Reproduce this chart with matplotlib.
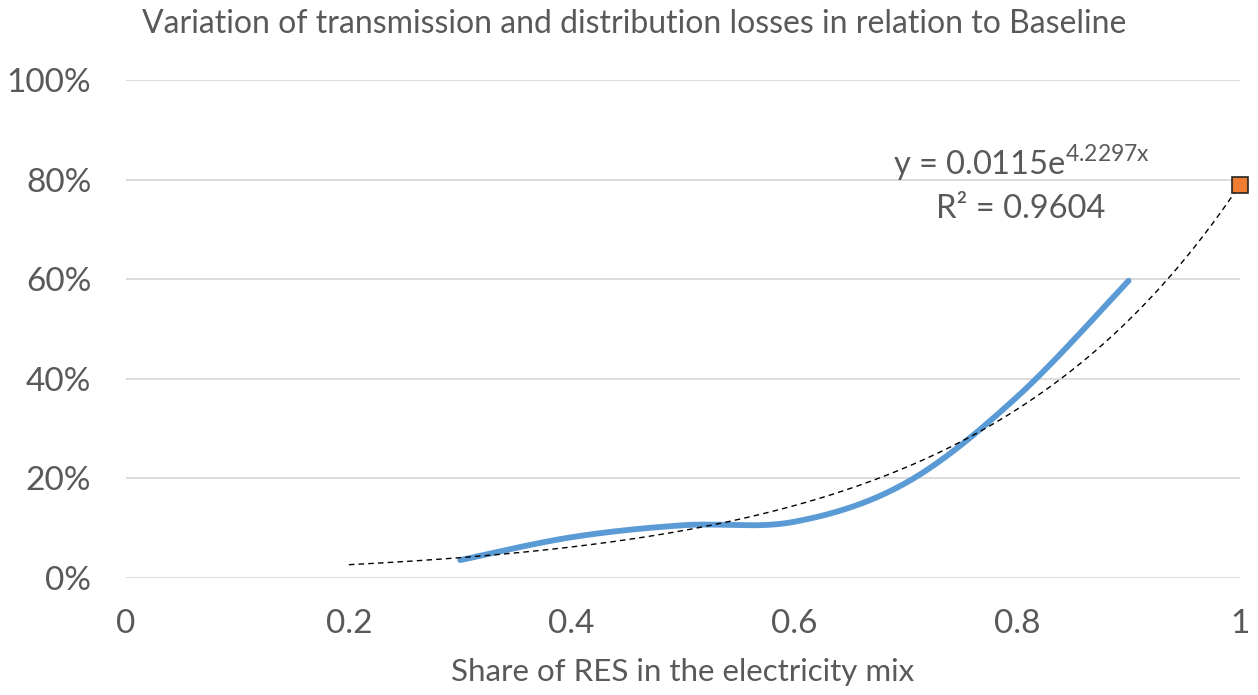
import numpy as np
import matplotlib
matplotlib.use("Agg")
import matplotlib.pyplot as plt

plt.rcParams['font.family'] = ['Lato', 'DejaVu Sans']

# data
res_share = [0.3, 0.4, 0.5, 0.6, 0.7, 0.8, 0.9]
loss_var = [0.036, 0.082, 0.106, 0.113, 0.191, 0.364, 0.597]
extra_x = [1.0]
extra_y = [0.79]
# trendline shown on the chart: y = a * exp(b x)
trend_a = 0.0115
trend_b = 4.2297
trend_range = [0.2, 1.0]
x_ticks = [0, 0.2, 0.4, 0.6, 0.8, 1]
x_tick_labels = ["0", "0.2", "0.4", "0.6", "0.8", "1"]
y_ticks = [0, 0.2, 0.4, 0.6, 0.8, 1.0]
y_tick_labels = ["0%", "20%", "40%", "60%", "80%", "100%"]

TXT = "#595959"


def smooth(xs, ys, n=40):
    # Excel-style smoothed line (Catmull-Rom as cubic Bezier)
    p = np.column_stack([xs, ys])
    pts = np.vstack([p[0], p, p[-1]])
    out = []
    t = np.linspace(0, 1, n)[:, None]
    for i in range(1, len(pts) - 2):
        p0, p3 = pts[i], pts[i + 1]
        c1 = p0 + (pts[i + 1] - pts[i - 1]) / 6
        c2 = p3 - (pts[i + 2] - pts[i]) / 6
        seg = ((1 - t) ** 3) * p0 + 3 * ((1 - t) ** 2) * t * c1 + 3 * (1 - t) * t ** 2 * c2 + t ** 3 * p3
        out.append(seg if i == 1 else seg[1:])
    out = np.vstack(out)
    return out[:, 0], out[:, 1]


fig = plt.figure(figsize=(12.58, 6.95), dpi=100)
ax = fig.add_axes([0.1002, 0.1683, 0.8855, 0.7166])

sx, sy = smooth(res_share, loss_var)
ax.plot(sx, sy, color="#5B9BD5", lw=4.2, solid_capstyle="round", zorder=3)

tx = np.linspace(trend_range[0], trend_range[1], 200)
ax.plot(tx, trend_a * np.exp(trend_b * tx), color="black", lw=1.0,
        ls=(0, (4, 3)), zorder=4)

ax.plot(extra_x, extra_y, ls="none", marker="s", ms=12, mfc="#ED7D31",
        mec="#262626", mew=1.2, clip_on=False, zorder=5)

ax.set_xlim(0, 1)
ax.set_ylim(0, 1)
ax.set_xticks(x_ticks)
ax.set_xticklabels(x_tick_labels)
ax.set_yticks(y_ticks)
ax.set_yticklabels(y_tick_labels)
ax.tick_params(axis="both", length=0, colors=TXT, labelsize=24)
ax.tick_params(axis="x", pad=22)
ax.tick_params(axis="y", pad=25)
for s in ax.spines.values():
    s.set_visible(False)
ax.grid(axis="y", color="#d9d9d9", lw=1.3)
ax.set_axisbelow(True)

ax.set_xlabel("Share of RES in the electricity mix", fontsize=22.5, color=TXT, labelpad=14)
fig.text(0.504, 0.966, "Variation of transmission and distribution losses in relation to Baseline",
         ha="center", va="center", fontsize=23, color=TXT)

ax.text(0.804, 0.833, r"y = 0.0115e$^{\mathregular{4.2297x}}$", ha="center", va="center",
        fontsize=23.5, color=TXT)
ax.text(0.803, 0.74, "R² = 0.9604", ha="center", va="center", fontsize=23.5, color=TXT)

fig.savefig("out.png", dpi=100)
